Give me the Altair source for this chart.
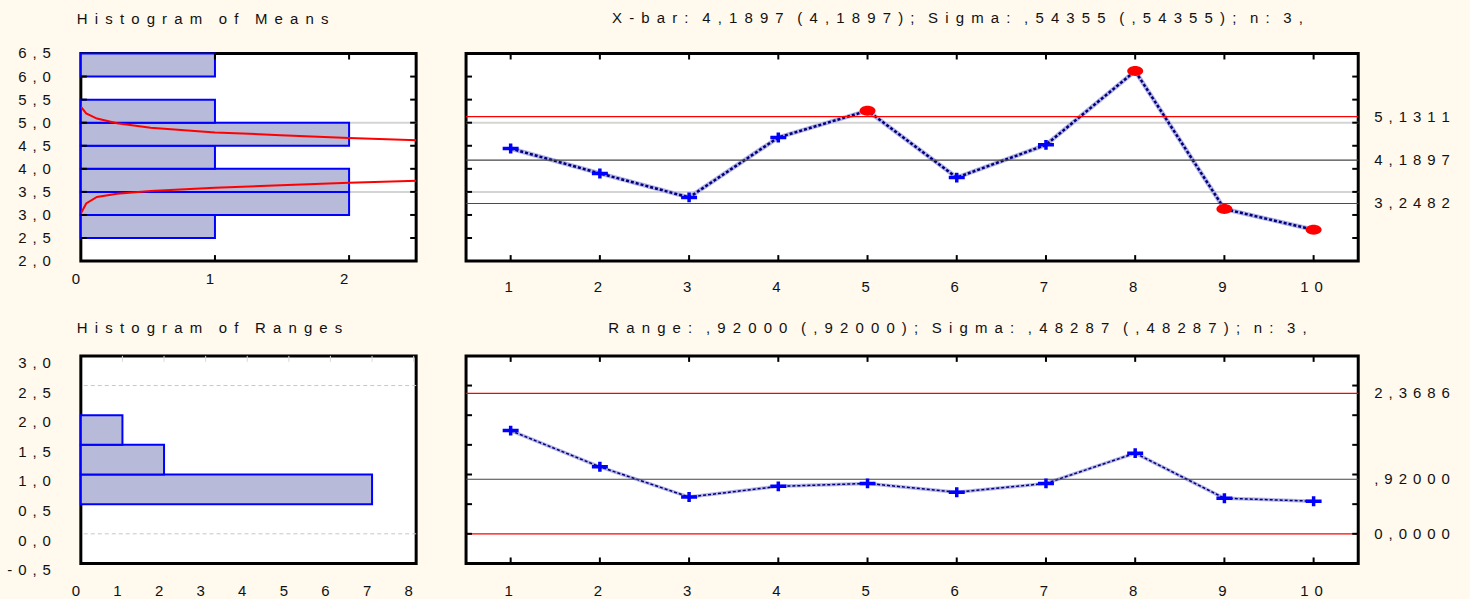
import altair as alt
import pandas as pd

# ---------------- data ----------------
samples = [1, 2, 3, 4, 5, 6, 7, 8, 9, 10]
means = [4.44, 3.90, 3.38, 4.68, 5.26, 3.81, 4.52, 6.12, 3.13, 2.68]
ranges = [1.74, 1.13, 0.62, 0.80, 0.85, 0.70, 0.85, 1.36, 0.60, 0.55]

limit_kinds = ["ucl", "center", "lcl"]
xbar_limit_values = [5.1311, 4.1897, 3.2482]
xbar_limit_labels = ["5,1311", "4,1897", "3,2482"]
r_limit_values = [2.3686, 0.92, 0.0]
r_limit_labels = ["2,3686", ",92000", "0,0000"]

mean_bin_lo = [2.5, 3.0, 3.5, 4.0, 4.5, 5.0, 6.0]
mean_bin_hi = [3.0, 3.5, 4.0, 4.5, 5.0, 5.5, 6.5]
mean_bin_count = [1, 2, 2, 1, 2, 1, 1]

range_bin_lo = [0.5, 1.0, 1.5]
range_bin_hi = [1.0, 1.5, 2.0]
range_bin_count = [7, 2, 1]

# fitted normal curve on the means histogram (two visible branches)
curve_low_x = [0.0, 0.04, 0.12, 0.27, 0.52, 1.0, 1.49, 2.0, 2.52]
curve_low_y = [3.03, 3.25, 3.39, 3.46, 3.52, 3.59, 3.645, 3.70, 3.74]
curve_up_x = [0.0, 0.04, 0.12, 0.27, 0.52, 1.0, 1.49, 2.0, 2.52]
curve_up_y = [5.35, 5.20, 5.09, 4.99, 4.89, 4.79, 4.73, 4.67, 4.62]

mean_y_ticks = [2.0, 2.5, 3.0, 3.5, 4.0, 4.5, 5.0, 5.5, 6.0, 6.5]
mean_y_labels = ["2,0", "2,5", "3,0", "3,5", "4,0", "4,5", "5,0", "5,5", "6,0", "6,5"]
range_y_ticks = [-0.5, 0.0, 0.5, 1.0, 1.5, 2.0, 2.5, 3.0]
range_y_labels = ["-0,5", "0,0", "0,5", "1,0", "1,5", "2,0", "2,5", "3,0"]
mean_hist_x_ticks = [0, 1, 2]
mean_hist_x_labels = ["0", "1", "2"]
range_hist_x_ticks = [0, 1, 2, 3, 4, 5, 6, 7, 8]
range_hist_x_labels = ["0", "1", "2", "3", "4", "5", "6", "7", "8"]
sample_labels = ["1", "2", "3", "4", "5", "6", "7", "8", "9", "10"]
mean_band_lines = [3.5, 5.0]
range_hist_grid = [0.0, 2.5]
range_grid_ticks = [0.0, 0.5, 1.0, 1.5, 2.0, 2.5, 3.0]

title_means = "Histogram of Means"
title_xbar = "X-bar: 4,1897 (4,1897); Sigma: ,54355 (,54355); n: 3,"
title_ranges = "Histogram of Ranges"
title_r = "Range: ,92000 (,92000); Sigma: ,48287 (,48287); n: 3,"

# ---------------- style ----------------
FONT = "Liberation Sans"
FS = 15
TXT = "#111111"
BG = "#FFF9EE"
HW, CW, H = 336, 894, 208
G_LBL = "\u2009\u2009"
G_HT, W_HT = "\u00A0\u2009", "\u00A0\u00A0\u00A0\u00A0"
G_CT, W_CT = "\u00A0\u2009", "\u00A0\u00A0\u00A0\u200A"


def spaced(s, gap, word):
    return word.join(gap.join(w) for w in s.split(" "))


def tick_rules(values, ch, side, scale, W, L=6, color="black", width=2):
    df = pd.DataFrame({"v": values})
    base = alt.Chart(df).mark_rule(color=color, strokeWidth=width)
    if ch == "y":
        enc = dict(y=alt.Y("v:Q", scale=scale, axis=None))
        if side == "left":
            enc.update(x=alt.value(0), x2=alt.value(L))
        else:
            enc.update(x=alt.value(W - L), x2=alt.value(W))
    else:
        enc = dict(x=alt.X("v:Q", scale=scale, axis=None))
        if side == "bottom":
            enc.update(y=alt.value(H - L), y2=alt.value(H))
        else:
            enc.update(y=alt.value(0), y2=alt.value(L))
    return base.encode(**enc)


def y_labels(vals, labs, scale, dy=0):
    df = pd.DataFrame({"v": vals, "lab": [spaced(t, G_LBL, G_LBL) for t in labs]})
    return alt.Chart(df).mark_text(align="right", baseline="middle", font=FONT, fontSize=FS,
                                   color=TXT, dy=dy).encode(
        y=alt.Y("v:Q", scale=scale, axis=None), x=alt.value(-30), text="lab:N")


def x_labels(vals, labs, scale, below, dx=0):
    df = pd.DataFrame({"v": vals, "lab": [spaced(t, G_LBL, G_LBL) for t in labs]})
    return alt.Chart(df).mark_text(align="center", baseline="alphabetic", font=FONT, fontSize=FS,
                                   color=TXT, dx=dx).encode(
        x=alt.X("v:Q", scale=scale, axis=None), y=alt.value(H + below), text="lab:N")


def hist_title(t, off):
    return alt.TitleParams(spaced(t, G_HT, W_HT), anchor="start", frame="group", dx=-4,
                           offset=off, baseline="alphabetic", font=FONT, fontSize=FS,
                           fontWeight="normal", color=TXT)


def ctrl_title(t, off):
    return alt.TitleParams(spaced(t, G_CT, W_CT), anchor="middle", frame="bounds",
                           offset=off, baseline="alphabetic", font=FONT, fontSize=FS,
                           fontWeight="normal", color=TXT)


# ---------------- histogram of means ----------------
yM = alt.Scale(domain=[2.0, 6.5], nice=False, zero=False)
xMH = alt.Scale(domain=[0, 2.5], nice=False, zero=False)

mh_df = pd.DataFrame({"lo": mean_bin_lo, "hi": mean_bin_hi, "count": mean_bin_count})
mh_df["zero"] = 0
curve_df = pd.concat([
    pd.DataFrame({"cx": curve_low_x, "cy": curve_low_y, "branch": "low", "i": range(len(curve_low_x))}),
    pd.DataFrame({"cx": curve_up_x, "cy": curve_up_y, "branch": "up", "i": range(len(curve_up_x))}),
])

mh_bars = alt.Chart(mh_df).mark_rect(fill="#B7BAD8", stroke="#0000FF", strokeWidth=2).encode(
    x=alt.X("zero:Q", scale=xMH, title=None,
            axis=alt.Axis(values=mean_hist_x_ticks, grid=True, gridDash=[2, 2], labels=False)),
    x2="count:Q",
    y=alt.Y("lo:Q", scale=yM, title=None,
            axis=alt.Axis(values=mean_y_ticks, grid=True, gridDash=[4, 3], labels=False)),
    y2="hi:Q",
)
mh_band = alt.Chart(pd.DataFrame({"v": mean_band_lines})).mark_rule(color="#D4D4D4", strokeWidth=2).encode(
    y=alt.Y("v:Q", scale=yM, axis=None))
mh_curve = alt.Chart(curve_df).mark_line(color="#FF0000", strokeWidth=2, clip=True).encode(
    x=alt.X("cx:Q", scale=xMH, axis=None), y=alt.Y("cy:Q", scale=yM, axis=None),
    detail="branch:N", order="i:Q")
inner_y_mean = mean_y_ticks[1:-1]
mean_hist = alt.layer(
    mh_band, mh_bars, mh_curve,
    tick_rules(inner_y_mean, "y", "left", yM, HW), tick_rules(inner_y_mean, "y", "right", yM, HW),
    tick_rules([1, 2], "x", "bottom", xMH, HW), tick_rules([1, 2], "x", "top", xMH, HW),
    y_labels(mean_y_ticks, mean_y_labels, yM),
    x_labels(mean_hist_x_ticks, mean_hist_x_labels, xMH, 23, dx=-5),
).properties(width=HW, height=H, title=hist_title(title_means, 8))

# ---------------- control charts ----------------
xC = alt.Scale(domain=[0.5, 10.5], nice=False, zero=False)
CROSS = "M-1,0L1,0M0,-0.62L0,0.62"
ELLIPSE = "M-1,0A1,0.62,0,1,1,1,0A1,0.62,0,1,1,-1,0Z"


def control_layers(df, field, yscale, ytick_vals, limit_vals, limit_labels, line_w, below):
    lim_df = pd.DataFrame({"v": limit_vals, "kind": limit_kinds,
                           "lab": [spaced(s, G_LBL, G_LBL) for s in limit_labels]})
    light = alt.Chart(df).mark_line(color="#B4B4E6", strokeWidth=line_w).encode(
        x=alt.X("sample:Q", scale=xC, title=None,
                axis=alt.Axis(values=samples, grid=True, gridDash=[2, 2], labels=False)),
        y=alt.Y(field + ":Q", scale=yscale, title=None,
                axis=alt.Axis(values=ytick_vals, grid=True, gridDash=[4, 3], labels=False)),
    )
    dark = alt.Chart(df).mark_line(color="#00007A", strokeWidth=line_w - 2, strokeDash=[3, 2]).encode(
        x=alt.X("sample:Q", scale=xC, axis=None), y=alt.Y(field + ":Q", scale=yscale, axis=None))
    limits = alt.Chart(lim_df).mark_rule(strokeWidth=1.2).encode(
        y=alt.Y("v:Q", scale=yscale, axis=None),
        color=alt.Color("kind:N", legend=None,
                        scale=alt.Scale(domain=limit_kinds, range=["#FF0000", "#444444", "#FF0000"])))
    crosses = alt.Chart(df).transform_filter("!datum.out").mark_point(
        shape=CROSS, filled=False, stroke="#0000FF", strokeWidth=3.5, size=256, opacity=1).encode(
        x=alt.X("sample:Q", scale=xC, axis=None), y=alt.Y(field + ":Q", scale=yscale, axis=None))
    dots = alt.Chart(df).transform_filter("datum.out").mark_point(
        shape=ELLIPSE, filled=True, fill="#FF0000", strokeWidth=0, size=256, opacity=1).encode(
        x=alt.X("sample:Q", scale=xC, axis=None), y=alt.Y(field + ":Q", scale=yscale, axis=None))
    texts = alt.Chart(lim_df).mark_text(align="left", baseline="middle", font=FONT, fontSize=FS,
                                        color=TXT).encode(
        y=alt.Y("v:Q", scale=yscale, axis=None), x=alt.value(CW + 16), text="lab:N")
    inner = [v for v in ytick_vals if yscale.domain[0] < v < yscale.domain[1]]
    return [light, dark, limits, crosses, dots, texts,
            tick_rules(inner, "y", "left", yscale, CW), tick_rules(inner, "y", "right", yscale, CW),
            tick_rules(samples, "x", "bottom", xC, CW), tick_rules(samples, "x", "top", xC, CW),
            x_labels(samples, sample_labels, xC, below, dx=-2)]


cdf = pd.DataFrame({"sample": samples, "mean": means})
cdf["out"] = (cdf["mean"] > xbar_limit_values[0]) | (cdf["mean"] < xbar_limit_values[2])
band_c = alt.Chart(pd.DataFrame({"v": mean_band_lines})).mark_rule(color="#D4D4D4", strokeWidth=2).encode(
    y=alt.Y("v:Q", scale=yM, axis=None))
xbar_chart = alt.layer(
    band_c, *control_layers(cdf, "mean", yM, mean_y_ticks, xbar_limit_values, xbar_limit_labels, 4.5, 31)
).properties(width=CW, height=H, title=ctrl_title(title_xbar, 15))

# ---------------- histogram of ranges ----------------
yR = alt.Scale(domain=[-0.5, 3.0], nice=False, zero=False)
xRH = alt.Scale(domain=[0, 8.06], nice=False, zero=False)
rh_df = pd.DataFrame({"lo": range_bin_lo, "hi": range_bin_hi, "count": range_bin_count})
rh_df["zero"] = 0
rh_bars = alt.Chart(rh_df).mark_rect(fill="#B7BAD8", stroke="#0000FF", strokeWidth=2).encode(
    x=alt.X("zero:Q", scale=xRH, axis=None), x2="count:Q",
    y=alt.Y("lo:Q", scale=yR, axis=None), y2="hi:Q",
)
rh_grid = alt.Chart(pd.DataFrame({"v": range_hist_grid})).mark_rule(
    color="#C8C8C8", strokeWidth=1, strokeDash=[4, 3]).encode(y=alt.Y("v:Q", scale=yR, axis=None))
range_hist = alt.layer(
    rh_grid, rh_bars,
    tick_rules(range_hist_x_ticks[1:], "x", "top", xRH, HW, color="#D8D8D8", width=1),
    y_labels(range_y_ticks, range_y_labels, yR, dy=7),
    x_labels(range_hist_x_ticks, range_hist_x_labels, xRH, 33, dx=-5),
).properties(width=HW, height=H, title=hist_title(title_ranges, 7))

rdf = pd.DataFrame({"sample": samples, "range": ranges})
rdf["out"] = (rdf["range"] > r_limit_values[0]) | (rdf["range"] < r_limit_values[2])
range_chart = alt.layer(
    *control_layers(rdf, "range", yR, range_grid_ticks, r_limit_values, r_limit_labels, 3.5, 33)
).properties(width=CW, height=H, title=ctrl_title(title_r, 7))

# ---------------- assemble ----------------
chart = alt.concat(
    mean_hist, xbar_chart, range_hist, range_chart,
    columns=2, spacing={"row": 95, "column": 50}, bounds="flush", align="each",
).properties(
    background=BG, padding={"left": 5, "top": 8, "right": 18, "bottom": 0}
).configure_view(fill="white", stroke="black", strokeWidth=3).configure_axis(
    domain=False, ticks=False, gridColor="#C8C8C8", gridWidth=1,
)

chart.save("out.html", embed_options={"renderer": "svg", "actions": False})
